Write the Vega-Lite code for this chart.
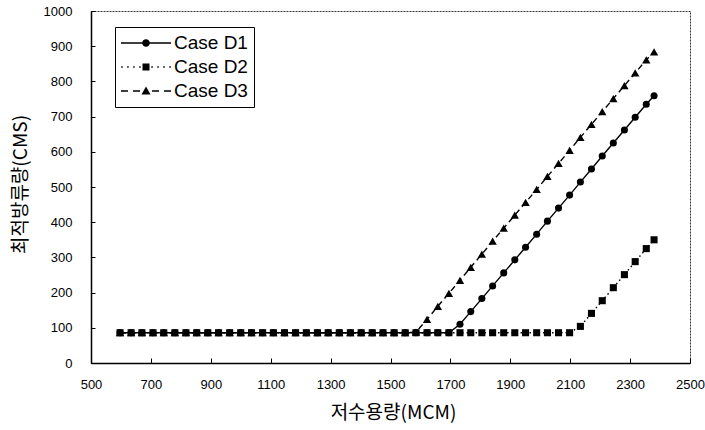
{
  "$schema": "https://vega.github.io/schema/vega-lite/v6.json",
  "width": 599,
  "height": 352,
  "autosize": {"type": "none"},
  "padding": {"left": 91, "top": 11, "right": 15, "bottom": 67},
  "background": "white",
  "config": {
    "view": {"stroke": "#333", "strokeWidth": 1, "strokeDash": [2, 1]},
    "font": "Liberation Sans"
  },
  "data": {
    "values": [
      {"x": 597, "D1": 86, "D2": 86, "D3": 86},
      {"x": 634, "D1": 86, "D2": 86, "D3": 86},
      {"x": 670, "D1": 86, "D2": 86, "D3": 86},
      {"x": 707, "D1": 86, "D2": 86, "D3": 86},
      {"x": 743, "D1": 86, "D2": 86, "D3": 86},
      {"x": 780, "D1": 86, "D2": 86, "D3": 86},
      {"x": 817, "D1": 86, "D2": 86, "D3": 86},
      {"x": 853, "D1": 86, "D2": 86, "D3": 86},
      {"x": 890, "D1": 86, "D2": 86, "D3": 86},
      {"x": 926, "D1": 86, "D2": 86, "D3": 86},
      {"x": 963, "D1": 86, "D2": 86, "D3": 86},
      {"x": 1000, "D1": 86, "D2": 86, "D3": 86},
      {"x": 1036, "D1": 86, "D2": 86, "D3": 86},
      {"x": 1073, "D1": 86, "D2": 86, "D3": 86},
      {"x": 1109, "D1": 86, "D2": 86, "D3": 86},
      {"x": 1146, "D1": 86, "D2": 86, "D3": 86},
      {"x": 1183, "D1": 86, "D2": 86, "D3": 86},
      {"x": 1219, "D1": 86, "D2": 86, "D3": 86},
      {"x": 1256, "D1": 86, "D2": 86, "D3": 86},
      {"x": 1292, "D1": 86, "D2": 86, "D3": 86},
      {"x": 1329, "D1": 86, "D2": 86, "D3": 86},
      {"x": 1366, "D1": 86, "D2": 86, "D3": 86},
      {"x": 1402, "D1": 86, "D2": 86, "D3": 86},
      {"x": 1439, "D1": 86, "D2": 86, "D3": 86},
      {"x": 1475, "D1": 86, "D2": 86, "D3": 86},
      {"x": 1512, "D1": 86, "D2": 86, "D3": 86},
      {"x": 1549, "D1": 86, "D2": 86, "D3": 86},
      {"x": 1585, "D1": 86, "D2": 86, "D3": 88},
      {"x": 1622, "D1": 86, "D2": 86, "D3": 124},
      {"x": 1658, "D1": 86, "D2": 86, "D3": 161},
      {"x": 1695, "D1": 86, "D2": 86, "D3": 198},
      {"x": 1732, "D1": 110, "D2": 86, "D3": 235},
      {"x": 1768, "D1": 146, "D2": 86, "D3": 272},
      {"x": 1805, "D1": 183, "D2": 86, "D3": 309},
      {"x": 1841, "D1": 219, "D2": 86, "D3": 346},
      {"x": 1878, "D1": 256, "D2": 86, "D3": 383},
      {"x": 1915, "D1": 293, "D2": 86, "D3": 420},
      {"x": 1951, "D1": 329, "D2": 86, "D3": 456},
      {"x": 1988, "D1": 366, "D2": 86, "D3": 493},
      {"x": 2024, "D1": 403, "D2": 86, "D3": 530},
      {"x": 2061, "D1": 440, "D2": 86, "D3": 567},
      {"x": 2098, "D1": 477, "D2": 86, "D3": 604},
      {"x": 2134, "D1": 514, "D2": 104, "D3": 641},
      {"x": 2171, "D1": 551, "D2": 141, "D3": 678},
      {"x": 2207, "D1": 588, "D2": 177, "D3": 714},
      {"x": 2244, "D1": 625, "D2": 214, "D3": 751},
      {"x": 2281, "D1": 662, "D2": 251, "D3": 788},
      {"x": 2317, "D1": 698, "D2": 288, "D3": 824},
      {"x": 2354, "D1": 735, "D2": 325, "D3": 861},
      {"x": 2380, "D1": 759, "D2": 350, "D3": 884}
    ]
  },
  "transform": [{"fold": ["D1", "D2", "D3"], "as": ["series", "y"]}],
  "encoding": {
    "x": {
      "field": "x",
      "type": "quantitative",
      "scale": {"domain": [500, 2500], "nice": false},
      "axis": {
        "title": "저수용량(MCM)",
        "values": [500, 700, 900, 1100, 1300, 1500, 1700, 1900, 2100, 2300, 2500],
        "format": "d",
        "grid": false,
        "domainColor": "black",
        "domainWidth": 1.5,
        "tickColor": "black",
        "tickSize": -5,
        "labelPadding": 20,
        "labelFlush": false,
        "labelFont": "Liberation Sans",
        "labelFontSize": 13,
        "labelColor": "black",
        "titleFont": "Noto Sans CJK KR",
        "titleFontSize": 19,
        "titleFontWeight": "normal",
        "titleColor": "black",
        "titleX": 302,
        "titleY": 49,
        "titleAlign": "center",
        "titleBaseline": "middle"
      }
    },
    "y": {
      "field": "y",
      "type": "quantitative",
      "scale": {"domain": [0, 1000], "nice": false},
      "axis": {
        "title": "최적방류량(CMS)",
        "values": [0, 100, 200, 300, 400, 500, 600, 700, 800, 900, 1000],
        "format": "d",
        "grid": false,
        "domainColor": "black",
        "domainWidth": 1.5,
        "tickColor": "black",
        "tickSize": -4,
        "labelPadding": 23,
        "labelFlush": false,
        "labelFont": "Liberation Sans",
        "labelFontSize": 13,
        "labelColor": "black",
        "titleFont": "Noto Sans CJK KR",
        "titleFontSize": 19,
        "titleFontWeight": "normal",
        "titleColor": "black",
        "titleAngle": -90,
        "titleX": -71,
        "titleY": 173,
        "titleAlign": "center",
        "titleBaseline": "middle"
      }
    }
  },
  "layer": [
    {
      "transform": [{"filter": "datum.series === 'D1'"}],
      "mark": {"type": "line", "color": "black", "strokeWidth": 1.4},
      "encoding": {}
    },
    {
      "transform": [{"filter": "datum.series === 'D2'"}],
      "mark": {"type": "line", "color": "black", "strokeWidth": 1.4, "strokeDash": [1.5, 3]},
      "encoding": {}
    },
    {
      "transform": [{"filter": "datum.series === 'D3'"}],
      "mark": {"type": "line", "color": "black", "strokeWidth": 1.4, "strokeDash": [6, 4]},
      "encoding": {}
    },
    {
      "transform": [{"filter": "datum.series === 'D1'"}],
      "mark": {"type": "point", "shape": "circle", "filled": true, "color": "black", "size": 50, "opacity": 1}
    },
    {
      "transform": [{"filter": "datum.series === 'D2'"}],
      "mark": {"type": "point", "shape": "square", "filled": true, "color": "black", "size": 50, "opacity": 1}
    },
    {
      "transform": [{"filter": "datum.series === 'D3'"}],
      "mark": {"type": "point", "shape": "triangle-up", "filled": true, "color": "black", "size": 70, "opacity": 1}
    },
    {
      "mark": {"type": "point", "filled": true, "fill": "black", "size": 400, "opacity": 0},
      "encoding": {
        "shape": {
          "field": "series",
          "type": "nominal",
          "scale": {
            "domain": ["D1", "D2", "D3"],
            "range": [
              "M-1,-0.07L1.2,-0.07L1.2,0.07L-1,0.07ZM1.8,-0.07L4,-0.07L4,0.07L1.8,0.07ZM1.12,0A0.38,0.38,0,1,1,1.88,0A0.38,0.38,0,1,1,1.12,0Z",
              "M-0.98,-0.075L-0.83,-0.075L-0.83,0.075L-0.98,0.075ZM-0.38,-0.075L-0.23,-0.075L-0.23,0.075L-0.38,0.075ZM0.22,-0.075L0.37,-0.075L0.37,0.075L0.22,0.075ZM0.82,-0.075L0.97,-0.075L0.97,0.075L0.82,0.075ZM1.15,-0.35L1.85,-0.35L1.85,0.35L1.15,0.35ZM2.03,-0.075L2.18,-0.075L2.18,0.075L2.03,0.075ZM2.63,-0.075L2.78,-0.075L2.78,0.075L2.63,0.075ZM3.23,-0.075L3.38,-0.075L3.38,0.075L3.23,0.075ZM3.83,-0.075L3.98,-0.075L3.98,0.075L3.83,0.075Z",
              "M-1,-0.07L-0.3,-0.07L-0.3,0.07L-1,0.07ZM0.2,-0.07L0.9,-0.07L0.9,0.07L0.2,0.07ZM1.5,-0.45L1.95,0.35L1.05,0.35ZM2.1,-0.07L2.8,-0.07L2.8,0.07L2.1,0.07ZM3.3,-0.07L4,-0.07L4,0.07L3.3,0.07Z"
            ]
          },
          "legend": {
            "title": null,
            "orient": "none",
            "legendX": 24,
            "legendY": 16,
            "padding": 6,
            "strokeColor": "black",
            "fillColor": "white",
            "labelFont": "Liberation Sans",
            "labelFontSize": 19,
            "labelColor": "black",
            "labelOffset": 33,
            "rowPadding": 4,
            "symbolSize": 400,
            "symbolOpacity": 1,
            "symbolFillColor": "black",
            "symbolStrokeWidth": 0,
            "labelExpr": "'Case ' + datum.label"
          }
        }
      }
    }
  ]
}
